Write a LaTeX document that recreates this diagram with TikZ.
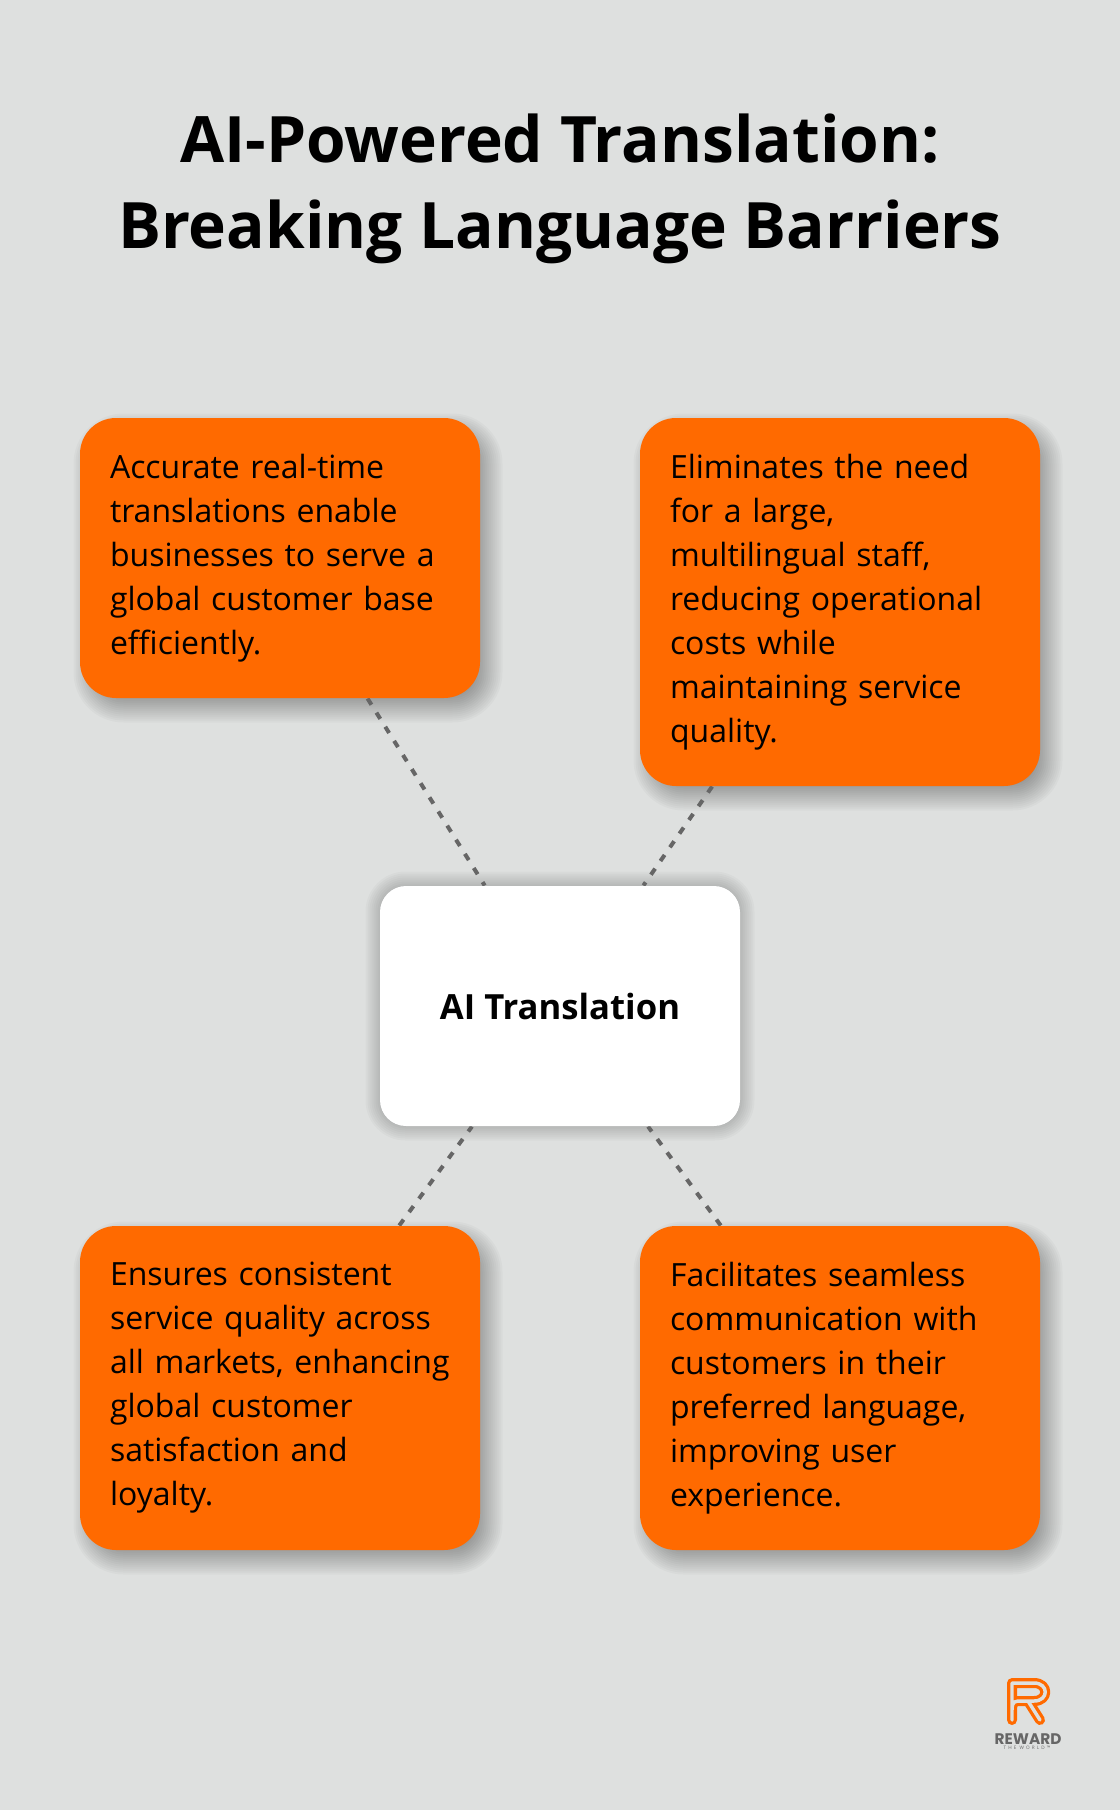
\documentclass[tikz,border=0pt]{standalone}
\usepackage{fontspec}
\setmainfont{Open Sans}
\newfontfamily\logofont{Poppins}
\newfontfamily\tagfont[LetterSpace=45]{Open Sans}
\usetikzlibrary{backgrounds,calc}
\definecolor{pagegrey}{RGB}{222,224,223}
\definecolor{rworange}{RGB}{255,106,0}
\definecolor{linkgrey}{RGB}{102,102,102}
\tikzset{every picture/.style={line width=0.75pt}}
\tikzset{
	card/.style={fill=rworange,text=black,rounded corners=27pt,minimum width=300pt,align=left,text width=255pt,inner sep=0pt,font=\fontsize{24}{33}\selectfont},
	hub/.style={fill=white,rounded corners=19.5pt,minimum width=270pt,minimum height=180pt,align=center,inner sep=0pt,font=\fontsize{26}{33}\selectfont\bfseries},
	link/.style={draw=linkgrey,line width=3pt,dash pattern=on 5.5pt off 7pt},
	softshade/.style={fill=black,fill opacity=0.022}
}

\begin{document}
\begin{tikzpicture}[x=0.75pt,y=0.75pt,yscale=-1,xscale=1]
	\useasboundingbox (0,0) rectangle (1120,1810);

	% Title
	\node (title) at (560,189) [align=center,font=\fontsize{48}{65}\selectfont\bfseries] {AI-Powered Translation:\\Breaking Language Barriers};

	% Cards
	\node (accurate) at (280,558) [card,minimum height=210pt] {Accurate real-time\\translations enable\\businesses to serve a\\global customer base\\efficiently.};
	\node (staff) at (840,602) [card,minimum height=276pt] {Eliminates the need\\for a large,\\multilingual staff,\\reducing operational\\costs while\\maintaining service\\quality.};
	\node (quality) at (280,1388) [card,minimum height=243pt] {Ensures consistent\\service quality across\\all markets, enhancing\\global customer\\satisfaction and\\loyalty.};
	\node (seamless) at (840,1388) [card,minimum height=243pt] {Facilitates seamless\\communication with\\customers in their\\preferred language,\\improving user\\experience.};
	\node (center) at (560,1006) [hub] {AI Translation};

	% Logo
	\coordinate (logo) at (1007,1675);
	\draw [rworange,line width=7.5pt,line cap=round,line join=round] (1012,1720) -- (1012,1683) -- (1034,1683) .. controls (1049,1683) and (1049,1701) .. (1034,1701) -- (1018,1701) .. controls (1012,1701) and (1012,1707) .. (1012,1710) (1028,1701) -- (1040,1720);
	\draw [pagegrey,line width=2.6pt,line cap=round,line join=round] (1012,1720) -- (1012,1683) -- (1034,1683) .. controls (1049,1683) and (1049,1701) .. (1034,1701) -- (1018,1701) .. controls (1012,1701) and (1012,1707) .. (1012,1710) (1028,1701) -- (1040,1720);
	\node (reward) at (1028,1739) [inner sep=0pt,text=linkgrey,font=\logofont\fontsize{11.5}{12}\selectfont\bfseries] {REWARD};
	\node (tagline) at (1027,1748) [inner sep=0pt,text=linkgrey,font=\tagfont\fontsize{3.5}{4}\selectfont] {THE WORLD™};

	\begin{scope}[on background layer]
		\fill [pagegrey] (0,0) rectangle (1120,1810);
		% Shadows
		\foreach \name/\rad in {accurate/36,staff/36,quality/36,seamless/36}
			\foreach \grow in {-14,-12,...,14}
				\pgfmathsetmacro{\rnd}{max(\rad+\grow,2)*0.75}
				\fill [softshade,rounded corners=\rnd pt] ($(\name.north west)+(8-\grow,10-\grow)$) rectangle ($(\name.south east)+(8+\grow,10+\grow)$);
		\foreach \grow in {-14,-12,...,14}
			\pgfmathsetmacro{\rnd}{max(26+\grow,2)*0.75}
			\fill [softshade,rounded corners=\rnd pt] ($(center.north west)+(0-\grow,0-\grow)$) rectangle ($(center.south east)+(0+\grow,0+\grow)$);
		% Links
		\draw [link] (accurate) -- (center);
		\draw [link] (staff) -- (center);
		\draw [link] (quality) -- (center);
		\draw [link] (seamless) -- (center);
	\end{scope}
\end{tikzpicture}
\end{document}
